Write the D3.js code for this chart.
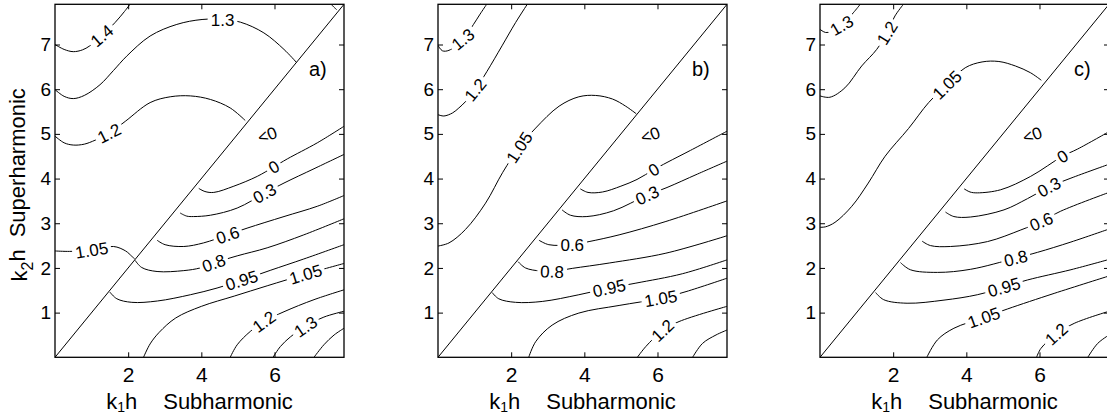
<!DOCTYPE html>
<html lang="en">
<head>
  <meta charset="UTF-8">
  <title>Sub / superharmonic contour panels</title>
  <script src="https://d3js.org/d3.v7.min.js"></script>
  <style>
    body { margin: 0; background: #fff; }
    svg { display: block; font-family: "Liberation Sans", Arial, sans-serif; }
  </style>
</head>
<body>
  <div id="chart"></div>

  <script>
    // axis values
    const xTicks = [2, 4, 6];
    const yTicks = [1, 2, 3, 4, 5, 6, 7];
    const axisMax = 7.9;
    const panelTags = ["a)", "b)", "c)"];
    const negLabel = "<0";
    const negAt = [5.8, 4.98];

    // contour lines, [k1h, k2h]; "at" = where the level label sits
    const panelA = [
      { lvl: "1.4", pts: [[0, 7.0], [0.25, 6.89], [0.5, 6.84], [0.75, 6.88], [0.95, 6.97], [1.28, 7.2], [1.64, 7.49], [1.9, 7.74], [2.05, 7.9]], at: [1.28, 7.2] },
      { lvl: "", pts: [[7.55, 7.9], [7.62, 7.84], [7.7, 7.78]] },
      { lvl: "1.3", pts: [[0, 5.99], [0.25, 5.84], [0.5, 5.79], [0.8, 5.86], [1.23, 6.1], [1.6, 6.42], [1.96, 6.74], [2.6, 7.19], [3.33, 7.45], [4.02, 7.56], [4.58, 7.56], [5.07, 7.5], [5.71, 7.26], [6.26, 6.89], [6.6, 6.6]], at: [4.58, 7.56] },
      { lvl: "1.2", pts: [[0, 4.95], [0.25, 4.8], [0.5, 4.75], [0.8, 4.77], [1.1, 4.86], [1.49, 5.02], [1.92, 5.28], [2.6, 5.7], [3.15, 5.83], [3.7, 5.85], [4.25, 5.77], [4.79, 5.58], [5.2, 5.3]], at: [1.49, 5.0] },
      { lvl: "1.05", pts: [[0, 2.38], [0.4, 2.37], [1.0, 2.4], [1.6, 2.48], [1.93, 2.38], [2.1, 2.26], [2.18, 2.2]], at: [1.0, 2.41] },
      { lvl: "0", pts: [[3.93, 3.78], [4.1, 3.71], [4.34, 3.69], [4.89, 3.83], [5.53, 4.05], [5.98, 4.26], [6.35, 4.44], [7.17, 4.8], [7.9, 5.17]], at: [5.98, 4.26] },
      { lvl: "0.3", pts: [[3.42, 3.23], [3.6, 3.16], [3.79, 3.15], [4.25, 3.18], [4.98, 3.34], [5.75, 3.68], [6.26, 3.9], [7.08, 4.22], [7.9, 4.54]], at: [5.73, 3.67] },
      { lvl: "0.6", pts: [[2.79, 2.62], [3.01, 2.52], [3.52, 2.48], [4.06, 2.56], [4.72, 2.74], [5.25, 2.89], [6.26, 3.15], [7.17, 3.38], [7.9, 3.62]], at: [4.72, 2.74] },
      { lvl: "0.8", pts: [[2.19, 2.17], [2.37, 2.01], [2.79, 1.92], [3.52, 1.94], [3.97, 2.0], [4.34, 2.11], [4.98, 2.27], [5.8, 2.45], [6.8, 2.74], [7.9, 3.1]], at: [4.34, 2.11] },
      { lvl: "0.95", pts: [[1.5, 1.46], [1.69, 1.31], [2.1, 1.23], [2.8, 1.26], [3.7, 1.4], [4.43, 1.55], [5.16, 1.74], [5.9, 1.95], [6.8, 2.2], [7.9, 2.52]], at: [5.1, 1.73] },
      { lvl: "1.05", pts: [[2.42, 0], [2.6, 0.3], [2.85, 0.56], [3.3, 0.88], [4.0, 1.14], [4.9, 1.37], [5.8, 1.6], [6.85, 1.86], [7.9, 2.1]], at: [6.85, 1.86] },
      { lvl: "1.2", pts: [[4.79, 0], [4.98, 0.28], [5.34, 0.58], [5.71, 0.8], [6.26, 1.02], [7.08, 1.29], [7.9, 1.51]], at: [5.71, 0.8] },
      { lvl: "1.3", pts: [[5.96, 0], [6.16, 0.24], [6.44, 0.46], [6.85, 0.69], [7.35, 0.9], [7.9, 1.03]], at: [6.85, 0.69] },
      { lvl: "", pts: [[7.08, 0], [7.35, 0.28], [7.63, 0.5], [7.9, 0.65]] }
    ];

    const panelB = [
      { lvl: "1.3", pts: [[0, 6.98], [0.12, 6.86], [0.3, 6.87], [0.68, 7.12], [0.97, 7.45], [1.15, 7.68], [1.33, 7.9]], at: [0.68, 7.12] },
      { lvl: "1.2", pts: [[0, 5.43], [0.16, 5.4], [0.4, 5.47], [0.57, 5.58], [0.75, 5.72], [1.02, 5.99], [1.34, 6.4], [1.75, 6.97], [2.12, 7.49], [2.44, 7.9]], at: [1.02, 5.99] },
      { lvl: "1.05", pts: [[0, 2.49], [0.3, 2.56], [0.75, 2.86], [1.3, 3.45], [1.77, 4.14], [2.22, 4.7], [2.67, 5.13], [3.31, 5.62], [3.85, 5.83], [4.31, 5.86], [4.77, 5.78], [5.13, 5.62], [5.42, 5.45]], at: [2.22, 4.7] },
      { lvl: "0", pts: [[3.89, 3.77], [4.1, 3.69], [4.5, 3.7], [5.0, 3.83], [5.44, 3.98], [5.9, 4.2], [6.26, 4.36], [6.9, 4.63], [7.9, 5.06]], at: [5.9, 4.2] },
      { lvl: "0.3", pts: [[3.39, 3.3], [3.62, 3.18], [4.07, 3.15], [4.8, 3.28], [5.72, 3.63], [6.26, 3.8], [7.09, 4.1], [7.9, 4.39]], at: [5.72, 3.63] },
      { lvl: "0.6", pts: [[2.76, 2.62], [3.03, 2.52], [3.67, 2.52], [4.13, 2.59], [4.95, 2.74], [6.23, 3.04], [7.9, 3.5]], at: [3.67, 2.52] },
      { lvl: "0.8", pts: [[2.19, 2.14], [2.39, 2.0], [2.8, 1.93], [3.12, 1.92], [3.67, 1.99], [4.68, 2.11], [6.23, 2.33], [7.9, 2.72]], at: [3.12, 1.92] },
      { lvl: "0.95", pts: [[1.48, 1.45], [1.66, 1.31], [2.12, 1.23], [2.85, 1.25], [3.85, 1.4], [4.68, 1.55], [5.41, 1.66], [6.68, 1.87], [7.9, 2.18]], at: [4.68, 1.55] },
      { lvl: "1.05", pts: [[2.48, 0], [2.67, 0.35], [3.12, 0.72], [3.85, 0.99], [4.95, 1.16], [6.09, 1.32], [6.78, 1.47], [7.9, 1.77]], at: [6.09, 1.32] },
      { lvl: "1.2", pts: [[5.45, 0], [5.68, 0.24], [6.14, 0.6], [6.59, 0.8], [7.9, 1.14]], at: [6.14, 0.6] },
      { lvl: "", pts: [[6.96, 0], [7.23, 0.31], [7.6, 0.5], [7.9, 0.61]] }
    ];

    const panelC = [
      { lvl: "1.3", pts: [[0, 7.34], [0.15, 7.27], [0.32, 7.3], [0.59, 7.43], [0.91, 7.71], [1.1, 7.9]], at: [0.59, 7.43] },
      { lvl: "1.2", pts: [[0, 5.85], [0.27, 5.82], [0.68, 6.03], [1.14, 6.52], [1.55, 6.89], [1.83, 7.26], [2.05, 7.64], [2.28, 7.9]], at: [1.83, 7.26] },
      { lvl: "1.05", pts: [[0, 2.91], [0.15, 2.92], [0.41, 3.02], [0.87, 3.38], [1.32, 3.9], [1.78, 4.5], [2.42, 5.12], [2.97, 5.7], [3.47, 6.1], [3.97, 6.48], [4.43, 6.61], [4.89, 6.62], [5.34, 6.52], [5.75, 6.37], [6.05, 6.2]], at: [3.47, 6.1] },
      { lvl: "0", pts: [[3.94, 3.77], [4.1, 3.7], [4.3, 3.68], [4.94, 3.75], [5.76, 4.05], [6.63, 4.5], [7.04, 4.66], [7.9, 5.05]], at: [6.63, 4.5] },
      { lvl: "0.3", pts: [[3.43, 3.25], [3.66, 3.15], [4.12, 3.14], [5.03, 3.3], [5.67, 3.55], [6.26, 3.81], [6.86, 4.01], [7.9, 4.32]], at: [6.26, 3.81] },
      { lvl: "0.6", pts: [[2.79, 2.6], [3.02, 2.5], [3.57, 2.48], [4.58, 2.59], [5.49, 2.85], [6.05, 3.04], [6.58, 3.27], [7.9, 3.69]], at: [6.05, 3.04] },
      { lvl: "0.8", pts: [[2.2, 2.12], [2.47, 1.96], [3.21, 1.9], [4.12, 1.97], [5.35, 2.22], [5.95, 2.35], [6.86, 2.58], [7.9, 2.87]], at: [5.35, 2.22] },
      { lvl: "0.95", pts: [[1.52, 1.45], [1.74, 1.29], [2.38, 1.21], [3.39, 1.28], [4.3, 1.4], [5.03, 1.57], [5.67, 1.73], [6.86, 1.96], [7.9, 2.19]], at: [5.03, 1.57] },
      { lvl: "1.05", pts: [[2.92, 0], [3.21, 0.39], [3.66, 0.65], [4.48, 0.89], [5.12, 1.08], [6.4, 1.43], [7.9, 1.82]], at: [4.48, 0.89] },
      { lvl: "1.2", pts: [[5.92, 0], [6.04, 0.2], [6.46, 0.52], [6.95, 0.76], [7.9, 1.03]], at: [6.46, 0.52] },
      { lvl: "", pts: [[7.32, 0], [7.59, 0.31], [7.9, 0.5]] }
    ];

    const panels = [panelA, panelB, panelC];

    // layout
    const width = 1107, height = 415;
    const panelLeft = [55, 438, 820];
    const plotW = 289, plotH = 353, plotTop = 4.3;

    const svg = d3.select("#chart").append("svg")
      .attr("width", width).attr("height", height);
    svg.append("rect").attr("width", width).attr("height", height).attr("fill", "#fff");

    // nearest point on a pixel polyline + direction of that segment
    function nearestOnPath(P, A) {
      let best = { d: Infinity };
      for (let i = 0; i < P.length - 1; i++) {
        const [x1, y1] = P[i], [x2, y2] = P[i + 1];
        const dx = x2 - x1, dy = y2 - y1;
        let t = ((A[0] - x1) * dx + (A[1] - y1) * dy) / (dx * dx + dy * dy);
        t = Math.max(0, Math.min(1, t));
        const px = x1 + t * dx, py = y1 + t * dy;
        const d = Math.hypot(A[0] - px, A[1] - py);
        if (d < best.d) {
          let ang = Math.atan2(dy, dx) * 180 / Math.PI;
          if (ang > 90) ang -= 180;
          if (ang < -90) ang += 180;
          best = { d, px, py, ang };
        }
      }
      return best;
    }

    panels.forEach((contours, i) => {
      const L = panelLeft[i];
      const x = d3.scaleLinear().domain([0, axisMax]).range([L, L + plotW]);
      const y = d3.scaleLinear().domain([0, axisMax]).range([plotTop + plotH, plotTop]);

      svg.append("clipPath").attr("id", "clip" + i)
        .append("rect").attr("x", L).attr("y", plotTop).attr("width", plotW).attr("height", plotH);

      const plot = svg.append("g").attr("clip-path", `url(#clip${i})`);

      const line = d3.line()
        .x(d => x(d[0])).y(d => y(d[1]))
        .curve(d3.curveCatmullRom.alpha(0.5));

      // k1h = k2h diagonal
      plot.append("line")
        .attr("x1", x(0)).attr("y1", y(0))
        .attr("x2", x(axisMax)).attr("y2", y(axisMax))
        .attr("stroke", "#000").attr("stroke-width", 1);

      plot.selectAll(".contour")
        .data(contours)
        .enter().append("path")
        .attr("class", "contour")
        .attr("d", d => line(d.pts))
        .attr("fill", "none")
        .attr("stroke", "#000")
        .attr("stroke-width", 1);

      // inline level labels, white patch breaks the line underneath
      contours.filter(c => c.at).forEach(c => {
        const P = c.pts.map(p => [x(p[0]), y(p[1])]);
        const hit = nearestOnPath(P, [x(c.at[0]), y(c.at[1])]);
        const lg = plot.append("g")
          .attr("transform", `translate(${hit.px},${hit.py}) rotate(${hit.ang})`);
        const t = lg.append("text")
          .attr("text-anchor", "middle")
          .attr("dy", "0.36em")
          .attr("font-size", 17)
          .text(c.lvl);
        const bb = t.node().getBBox();
        lg.insert("rect", "text")
          .attr("x", bb.x - 3).attr("y", -5)
          .attr("width", bb.width + 6).attr("height", 10)
          .attr("fill", "#fff");
      });

      plot.append("text")
        .attr("transform", `translate(${x(negAt[0])},${y(negAt[1])}) rotate(-20)`)
        .attr("text-anchor", "middle")
        .attr("dy", "0.36em")
        .attr("font-size", 17)
        .text(negLabel);

      svg.append("text")
        .attr("x", L + 254).attr("y", 76)
        .attr("font-size", 20)
        .text(panelTags[i]);

      // axes, ticks pointing inward on all four sides
      const bottom = svg.append("g").attr("transform", `translate(0,${plotTop + plotH})`)
        .call(d3.axisBottom(x).tickValues(xTicks).tickSizeInner(-5).tickSizeOuter(0).tickPadding(10));
      bottom.selectAll("text").attr("font-size", 21).attr("fill", "#000");
      svg.append("g").attr("transform", `translate(0,${plotTop})`)
        .call(d3.axisTop(x).tickValues(xTicks).tickSizeInner(-5).tickSizeOuter(0).tickFormat(""));
      const left = svg.append("g").attr("transform", `translate(${L},0)`)
        .call(d3.axisLeft(y).tickValues(yTicks).tickSizeInner(-5).tickSizeOuter(0).tickPadding(4));
      left.selectAll("text").attr("font-size", 19).attr("fill", "#000");
      svg.append("g").attr("transform", `translate(${L + plotW},0)`)
        .call(d3.axisRight(y).tickValues(yTicks).tickSizeInner(-5).tickSizeOuter(0).tickFormat(""));
      svg.selectAll(".domain").remove();
      svg.selectAll(".tick line").attr("stroke", "#000");
      svg.selectAll(".tick text").attr("font-family", "'Liberation Sans', Arial, sans-serif");

      svg.append("rect")
        .attr("x", L).attr("y", plotTop).attr("width", plotW).attr("height", plotH)
        .attr("fill", "none").attr("stroke", "#000").attr("stroke-width", 1.3);

      // x label: k1h Subharmonic, pushed down to the bottom edge like the original
      const xl = svg.append("text")
        .attr("x", L + plotW / 2).attr("y", 409)
        .attr("text-anchor", "middle")
        .attr("font-size", 22);
      xl.append("tspan").text("k");
      xl.append("tspan").attr("dy", 3).attr("font-size", 14).text("1");
      xl.append("tspan").attr("dy", -3).text("h");
      xl.append("tspan").attr("dx", 26).text("Subharmonic");
    });

    // y label only on the first panel
    const yl = svg.append("text")
      .attr("transform", `translate(27,${plotTop + plotH / 2 + 4}) rotate(-90)`)
      .attr("text-anchor", "middle")
      .attr("font-size", 22);
    yl.append("tspan").text("k");
    yl.append("tspan").attr("dy", "0.35em").attr("font-size", 16).text("2");
    yl.append("tspan").attr("dy", "-0.35em").text("h");
    yl.append("tspan").attr("dx", 12).text("Superharmonic");
  </script>
</body>
</html>
